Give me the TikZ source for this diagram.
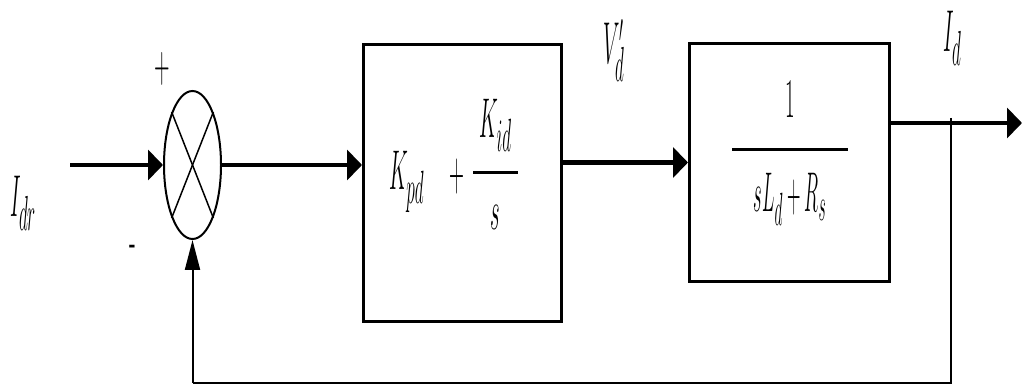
\documentclass[tikz,border=0pt]{standalone}
\usetikzlibrary{shapes.geometric,arrows.meta}
% larger sub- and superscripts at the \huge size
\DeclareMathSizes{20.74}{20.74}{17.28}{14.4}
\begin{document}
\begin{tikzpicture}[x=1pt,y=1pt,
  eq/.style={inner sep=0pt, transform shape, xscale=1.0, yscale=2.7, font=\huge},
  sig/.style={inner sep=0pt, transform shape, xscale=1.0, yscale=2.85, font=\huge},
  sign/.style={inner sep=0pt, transform shape, xscale=1.7, yscale=4.2, font=\large},
  block/.style={draw, line width=3pt, rectangle, inner sep=0pt},
  summer/.style={draw, line width=2pt, ellipse, inner sep=0pt,
                 minimum width=57pt, minimum height=148pt},
  harrow/.style={line width=4.5pt, -{Triangle[length=15pt,width=30pt]}},
  varrow/.style={line width=2pt, -{Triangle[length=30pt,width=15pt]}},
  fbline/.style={line width=2pt},
  fracbar/.style={line width=3pt}]
\useasboundingbox (0,0) rectangle (1022,-387);

% summing junction
\node[summer] (sum) at (192.5,-165) {};
\draw[line width=1.5pt] (sum.north west) -- (sum.south east);
\draw[line width=1.5pt] (sum.north east) -- (sum.south west);
\node[sign] (plus) at (162,-69) {+};
\node[sign] (minus) at (133,-251) {-};

% blocks
\node[block, minimum width=198pt, minimum height=277pt] (pi) at (462.5,-183) {};
\node[block, minimum width=200pt, minimum height=238pt] (plant) at (789.5,-162.5) {};

% PI controller
\node[eq, anchor=base west] (kpd) at (389,-190) {$K_{pd}$};
\node[eq] (pplus) at (457,-177) {$+$};
\node[eq, anchor=base] (kid) at (495.5,-138) {$K_{id}$};
\coordinate (b1l) at (473,-173);
\coordinate (b1r) at (518,-173);
\draw[fracbar] (b1l) -- (b1r);
\node[eq, anchor=base] (s1) at (495.5,-230) {$s$};

% plant
\node[eq, anchor=base] (one) at (790,-118) {$1$};
\coordinate (b2l) at (732,-150);
\coordinate (b2r) at (848,-150);
\draw[fracbar] (b2l) -- (b2r);
\node[eq, anchor=base, xscale=0.9] (den) at (790,-212) {$sL_d+R_s$};

% signals
\coordinate (in) at (70,-165);
\coordinate (out) at (1022,-123);
\coordinate (tap) at (951,-118);
\coordinate (fbr) at (951,-383);
\coordinate (fbl) at (192.5,-383);

\node[sig, anchor=base west] (idr) at (10,-217) {$I_{dr}$};
\node[sig, anchor=base west] (vd) at (603,-64) {$V_d^{\scriptscriptstyle\prime}$};
\node[sig, anchor=base west] (id) at (943,-52) {$I_d$};

% connectors
\draw[harrow] (in) -- (sum.west);
\draw[harrow] (sum.east) -- (sum.east -| pi.west);
\draw[harrow] (plant.west -| pi.east) -- (plant.west);
\draw[harrow] (plant.east |- out) -- (out);
\draw[fbline] (tap) -- (fbr) -- (fbl);
\draw[varrow] (fbl) -- (sum.south);
\end{tikzpicture}
\end{document}
